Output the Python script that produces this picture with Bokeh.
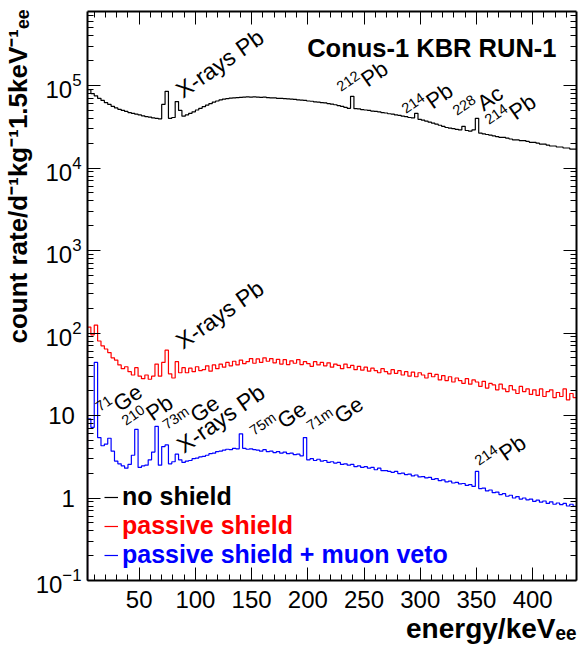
import numpy as np
from bokeh.plotting import figure
from bokeh.models import (Label, LinearAxis, LogAxis, FixedTicker, Range1d, Title,
                          Legend, LegendItem, CustomJSTickFormatter, LogTickFormatter)
from bokeh.embed import file_html
from bokeh.resources import INLINE

# ---------------- data (count rate per 3 keV bin) ----------------
energy_start_kev = 4.0
bin_width_kev = 3.0

rate_no_shield = [
    89000, 80000, 75000, 70000, 66000, 62000, 59000, 56000, 53500, 51500,
    50000, 48500, 47000, 46000, 45000, 44000, 43000, 42000, 41500, 40500,
    40000, 39500, 59000, 85000, 40000, 41000, 64000, 50000, 42500, 44000,
    46000, 48000, 50500, 53000, 55500, 58000, 60500, 63000, 65000, 67000,
    68500, 69500, 70500, 71000, 71500, 72000, 72500, 73000, 72500, 73000,
    72500, 72000, 72500, 71500, 71000, 71000, 70000, 70000, 69500, 69000,
    68500, 68000, 67000, 66500, 66000, 65000, 64500, 63500, 63000, 62000,
    61500, 60500, 59500, 58500, 57000, 56000, 54500, 53000, 74000, 52500,
    52000, 51000, 50500, 50000, 49000, 48500, 48000, 47000, 46500, 45500,
    45000, 44000, 43500, 42500, 42000, 41000, 40500, 46000, 39000, 38000,
    37000, 36000, 35000, 34000, 33000, 32000, 31000, 30500, 30000, 29500,
    29000, 32000, 28500, 28000, 29000, 40000, 26500, 26000, 25500, 25000,
    24500, 24000, 23500, 23500, 23000, 22500, 22000, 22000, 21500, 21500,
    21000, 20500, 20500, 20000, 19500, 19500, 19000, 18500, 18500, 18000,
    18000, 17500, 17500, 17000, 17000,
]

rate_passive = [
    118, 95, 125, 80, 70, 64, 58, 50, 47, 41,
    37, 39, 34, 31, 38, 30, 28, 31, 27.5, 30,
    42, 30, 44, 62, 32, 28.5, 45, 33, 38, 33,
    37.5, 34, 39, 35, 36, 40, 34.5, 41, 37, 42,
    38.5, 44, 40, 45.5, 41, 47, 42.5, 45, 49, 43,
    48.5, 44, 50, 45.5, 49, 43.5, 48, 42, 47.5, 41.5,
    46, 43, 47.5, 41.5, 45, 42.5, 39.5, 45, 41, 44,
    40, 43.5, 38.5, 42, 40.5, 37, 42, 38, 40.5, 36,
    39.5, 35.5, 38.5, 34.5, 37.5, 35, 33, 37, 34, 32,
    36, 32.5, 35, 31, 34, 30, 33.5, 29.5, 33, 31,
    28.5, 32.5, 29.5, 31.5, 27, 30.5, 26.5, 29.5, 25.5, 28.5,
    26.5, 24.5, 28, 24, 27, 25.5, 22.5, 26, 21.5, 24.5,
    23.5, 20.5, 24, 21, 19.5, 23, 20.5, 18.5, 22.5, 19.5,
    21, 18, 20.5, 17.5, 21, 17, 19.5, 20.5, 16.5, 19,
    17, 21, 15.5, 18.5, 16.5,
]

rate_passive_veto = [
    9.1, 7.2, 44, 5.4, 4.3, 4.5, 5.3, 3.7, 2.8, 2.6,
    2.45, 2.3, 2.55, 3.3, 6.8, 2.35, 2.45, 2.5, 2.9, 3.6,
    7.4, 2.5, 4.2, 4.4, 2.6, 2.75, 3.4, 2.9, 2.7, 2.8,
    2.85, 3.0, 3.05, 3.15, 3.2, 3.3, 3.45, 3.5, 3.65, 3.7,
    3.8, 3.9, 3.85, 4.0, 3.95, 6.0, 4.0, 3.9, 3.95, 3.85,
    3.8, 3.7, 3.85, 3.65, 3.7, 3.55, 3.65, 3.5, 3.6, 3.45,
    3.5, 3.35, 3.4, 3.25, 5.4, 2.9, 3.0, 2.85, 2.95, 2.8,
    2.85, 2.7, 2.75, 2.65, 2.7, 2.55, 2.6, 2.5, 2.55, 2.4,
    2.45, 2.35, 2.4, 2.3, 2.35, 2.2, 2.3, 2.15, 2.15, 2.1,
    2.05, 2.1, 1.98, 2.0, 1.92, 1.95, 1.85, 1.9, 1.8, 1.82,
    1.75, 1.78, 1.68, 1.72, 1.62, 1.66, 1.57, 1.6, 1.52, 1.55,
    1.48, 1.5, 1.42, 1.45, 1.38, 2.1, 1.3, 1.32, 1.22, 1.25,
    1.16, 1.18, 1.1, 1.13, 1.05, 1.08, 1.0, 1.04, 0.97, 1.0,
    0.95, 0.97, 0.91, 0.94, 0.89, 0.92, 0.86, 0.9, 0.84, 0.87,
    0.83, 0.86, 0.8, 0.84, 0.79,
]

x_major_ticks = [50, 100, 150, 200, 250, 300, 350, 400]
x_minor_ticks = list(range(10, 440, 10))
y_major_ticks = [0.1, 1, 10, 100, 1000, 10000, 100000]
y_plain_labels = {1: "1\u2008", 10: "10\u2008"}
y_minor_ticks = [k * 10.0 ** n for n in range(-1, 6) for k in range(2, 10)]

legend_labels = ["no shield", "passive shield", "passive shield + muon veto"]
series_colors = ["#000000", "#ff0000", "#0000ff"]
x_title = "energy/keV\u2091\u2091"
y_title = "count rate/d\u207b\u00b9kg\u207b\u00b91.5keV\u207b\u00b9\u2091\u2091"
plot_title = "Conus-1 KBR RUN-1"

# ---------------- helpers ----------------
FONT = "Liberation Sans"
W_REG = {' ': 278, '-': 333, '.': 278, '/': 278, 'A': 667, 'G': 778,
         'P': 667, 'X': 667, 'a': 556, 'b': 556, 'c': 500, 'e': 556, 'm': 833,
         'r': 333, 's': 500, 'y': 500}


def tw(s, size):
    return sum(W_REG.get(c, 556) for c in s) * size / 1000.0


X_LO, X_HI = 4.0, 439.0
Y_LO, Y_HI = 0.1, 7.9e5
FRAME_L, FRAME_B = 86, 580  # page coordinates of frame's bottom-left corner

p = figure(width=578, height=651, y_axis_type="log",
           x_range=Range1d(X_LO, X_HI), y_range=Range1d(Y_LO, Y_HI),
           output_backend="svg", toolbar_location=None,
           min_border_left=86, min_border_right=2, min_border_top=11,
           min_border_bottom=71)
p.outline_line_color = None
p.xgrid.visible = False
p.ygrid.visible = False
p.background_fill_color = "white"
p.border_fill_color = "white"


def style_axis(ax, ticker):
    ax.ticker = ticker
    ax.axis_line_width = 2
    ax.axis_line_color = "black"
    ax.major_tick_in = 13
    ax.major_tick_out = 0
    ax.minor_tick_in = 6
    ax.minor_tick_out = 0
    ax.major_tick_line_width = 1
    ax.minor_tick_line_width = 1
    ax.major_label_text_font = FONT
    ax.major_label_text_color = "black"


style_axis(p.xaxis[0], FixedTicker(ticks=x_major_ticks, minor_ticks=x_minor_ticks))
p.xaxis.major_label_text_font_size = "24px"
p.xaxis.major_label_standoff = 10

style_axis(p.yaxis[0], FixedTicker(ticks=y_major_ticks, minor_ticks=y_minor_ticks))
p.yaxis.formatter = LogTickFormatter()
p.yaxis.major_label_overrides = y_plain_labels
p.yaxis.major_label_text_font_size = "24px"
p.yaxis.major_label_standoff = 6

top = LinearAxis(formatter=CustomJSTickFormatter(code="return ''"), major_label_standoff=0)
style_axis(top, FixedTicker(ticks=x_major_ticks, minor_ticks=x_minor_ticks))
p.add_layout(top, "above")
right = LogAxis(formatter=CustomJSTickFormatter(code="return ''"), major_label_standoff=0)
style_axis(right, FixedTicker(ticks=y_major_ticks, minor_ticks=y_minor_ticks))
p.add_layout(right, "right")

# axis titles (ROOT style: at the end of the axis)
p.add_layout(Title(text=x_title, align="right", text_font=FONT, text_font_size="28px",
                   text_font_style="bold", text_color="black", standoff=0, offset=0),
             "below")
p.add_layout(Title(text=y_title, align="right", text_font=FONT, text_font_size="26px",
                   text_font_style="bold", text_color="black", standoff=0, offset=-2),
             "left")


def step_xy(values, floor=None):
    v = np.asarray(values, dtype=float)
    edges = energy_start_kev + bin_width_kev * np.arange(len(v) + 1)
    xs = np.repeat(edges, 2)[1:-1]
    ys = np.repeat(v, 2)
    if floor is not None:
        xs = np.concatenate([[edges[0]], xs])
        ys = np.concatenate([[floor], ys])
    return xs, ys


renderers = []
for vals, col, fl in [(rate_no_shield, series_colors[0], None),
                      (rate_passive, series_colors[1], 1e-3),
                      (rate_passive_veto, series_colors[2], 1e-3)]:
    xs, ys = step_xy(vals, fl)
    renderers.append(p.line(xs, ys, line_color=col, line_width=1.2))


def put(text, fx, fy, size, bold=False, color="black", angle=0.0,
        align="left", baseline="alphabetic"):
    """fx, fy: pixel offsets from the frame's bottom-left corner (right / up)."""
    p.add_layout(Label(x=X_LO, y=Y_LO, x_units="data", y_units="data",
                       x_offset=fx, y_offset=fy, text=text,
                       text_font=FONT, text_font_size=f"{size}px",
                       text_font_style="bold" if bold else "normal",
                       text_color=color, angle=angle, angle_units="deg",
                       text_align=align, text_baseline=baseline))


def page(px, py):
    return px - FRAME_L, FRAME_B - py


def rich(parts, px, py, main=22.0, angle=35.0, sup_scale=0.66, raise_frac=0.42):
    fx0, fy0 = page(px, py)
    th = np.radians(angle)
    a = 0.0
    for text, kind in parts:
        if kind == "sup":
            size, r = main * sup_scale, main * raise_frac
        else:
            size, r = main, 0.0
        ox = a * np.cos(th) - r * np.sin(th)
        oy = a * np.sin(th) + r * np.cos(th)
        put(text, fx0 + ox, fy0 + oy, round(size, 1), angle=angle)
        a += tw(text, size)


# ---------------- peak annotations (black text) ----------------
rich([("X-rays Pb", "main")], 177, 92, main=23)
rich([("212", "sup"), ("Pb", "main")], 342, 95)
rich([("214", "sup"), ("Pb", "main")], 407, 117)
rich([("228", "sup"), (" Ac", "main")], 458, 119)
rich([("214", "sup"), ("Pb", "main")], 490, 128)

rich([("X-rays Pb", "main")], 177, 343, main=23)

rich([("71", "sup"), ("Ge", "main")], 101, 415)
rich([("210", "sup"), ("Pb", "main")], 127, 429)
rich([("73m", "sup"), ("Ge", "main")], 168, 433)
rich([("X-rays Pb", "main")], 178, 447, main=23)
rich([("75m", "sup"), ("Ge", "main")], 255, 439)
rich([("71m", "sup"), ("Ge", "main")], 312, 434)
rich([("214", "sup"), ("Pb", "main")], 480, 469)

# ---------------- title inside frame ----------------
fx, fy = page(555, 47)
put(plot_title, fx, fy, 25.5, bold=True, align="right")

# ---------------- legends ----------------
leg_pos = [(17, 69), (17, 40), (17, 11)]
for lab, col, rend, loc in zip(legend_labels, series_colors, renderers, leg_pos):
    lg = Legend(items=[LegendItem(label=lab, renderers=[rend])], location=loc,
                padding=0, margin=0, spacing=0, glyph_width=14, glyph_height=28,
                label_height=28, label_standoff=4, label_text_font=FONT,
                label_text_font_style="bold", label_text_font_size="25px",
                label_text_color=col, label_text_baseline="middle",
                background_fill_alpha=0, border_line_alpha=0)
    p.add_layout(lg, "center")

open("out.html", "w").write(file_html(p, INLINE))
